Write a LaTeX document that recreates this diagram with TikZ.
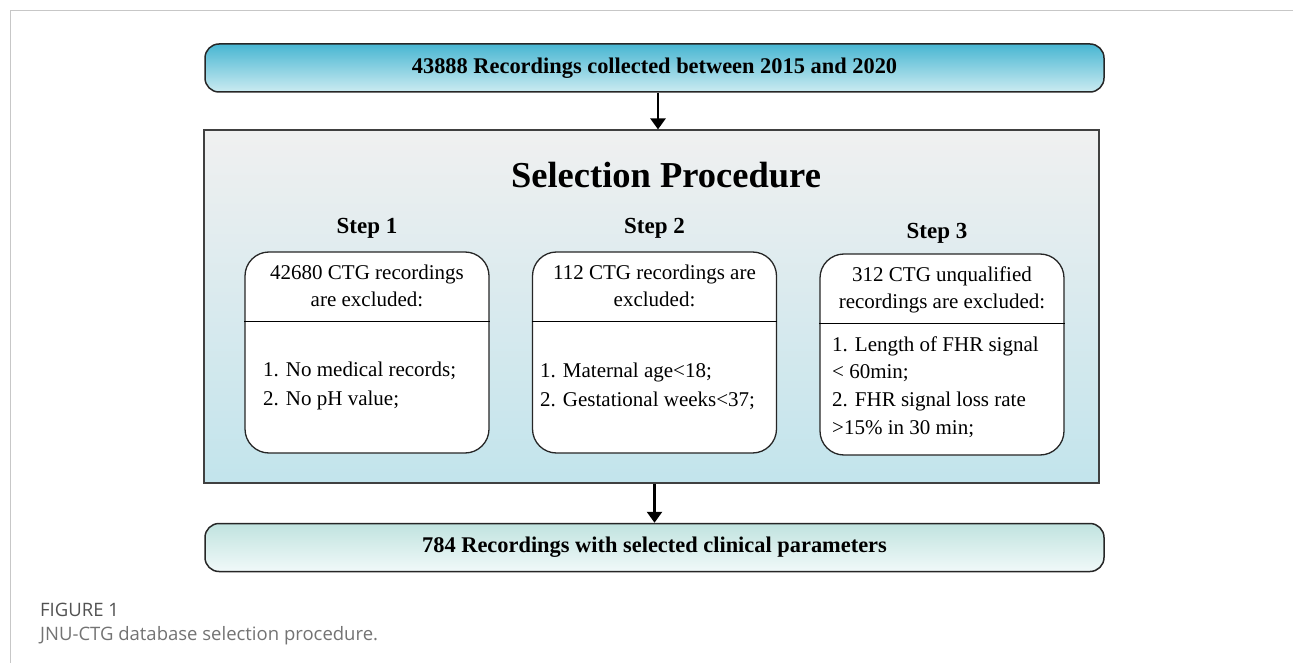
\documentclass[tikz,border=0pt]{standalone}
\usepackage{fontspec}
\setmainfont{Liberation Serif}
\newfontfamily\capfont{Open Sans}
\usetikzlibrary{arrows.meta, positioning}

\definecolor{bannertop}{HTML}{48B6D2}
\definecolor{bannerbot}{HTML}{CBEBF1}
\definecolor{resulttop}{HTML}{C0E3DF}
\definecolor{resultbot}{HTML}{F1F9F9}
\definecolor{paneltop}{HTML}{F0F0F0}
\definecolor{panelmid}{HTML}{C9E8EF}
\definecolor{panelbot}{HTML}{C2E4EC}

\begin{document}
\begin{tikzpicture}[
        x=1pt, y=-1pt,
        banner/.style={draw=black!85, line width=1.5pt, rounded corners=14pt, minimum width=899pt, minimum height=48pt, font=\fontsize{22.4}{26}\selectfont\bfseries},
        panel/.style={draw=black!75, line width=1.2pt, minimum width=895pt, minimum height=353pt, top color=paneltop, middle color=panelmid, bottom color=panelbot},
        stepbox/.style={draw=black!85, line width=1.3pt, fill=white, rounded corners=24pt, minimum width=244pt, minimum height=201pt},
        steptitle/.style={font=\fontsize{23}{26}\selectfont\bfseries},
        headtext/.style={font=\fontsize{21}{27}\selectfont, align=center},
        itemtext/.style={font=\fontsize{21}{29}\selectfont, align=left, anchor=west, inner sep=0pt},
        line/.style={draw, line width=2.6pt, -{Triangle[width=15pt,length=11pt]}}
    ]
        \useasboundingbox (0,0) rectangle (1293,663);
        % page frame
        \draw [black!22, line width=1pt] (10,663) -- (10,11) -- (1293,11);

        % Nodes from top to bottom
        \node [banner, top color=bannertop, bottom color=bannerbot] (collected) at (654.5,68) {43888 Recordings collected between 2015 and 2020};
        \node [panel] (panel) at (651.5,306.5) {};
        \node [font=\fontsize{36.5}{40}\selectfont\bfseries] (title) at (666,175) {Selection Procedure};
        \node [banner, top color=resulttop, bottom color=resultbot] (result) at (654.5,547.5) {784 Recordings with selected clinical parameters};

        % Step boxes
        \node [stepbox] (box1) at (367,352.5) {};
        \node [stepbox, right of=box1, node distance=287.5pt] (box2) {};
        \node [stepbox, right of=box2, node distance=287.5pt, yshift=-2pt] (box3) {};
        \node [steptitle, above=9pt of box1] (step1) {Step 1};
        \node [steptitle, above=9pt of box2] (step2) {Step 2};
        \node [steptitle, above=6pt of box3, xshift=-5pt] (step3) {Step 3};
        \foreach \b in {box1, box2, box3}
            \draw [line width=1.3pt] ([yshift=-70pt]\b.north west) -- ([yshift=-70pt]\b.north east);

        % Box texts
        \node [headtext, below=10pt of box1.north] (head1) {42680 CTG recordings\\are excluded:};
        \node [headtext, below=10pt of box2.north] (head2) {112 CTG recordings are\\excluded:};
        \node [headtext, below=10pt of box3.north] (head3) {312 CTG unqualified\\recordings are excluded:};
        \node [itemtext] (items1) at (263,386) {1. No medical records;\\2. No pH value;};
        \node [itemtext] (items2) at (540,386) {1. Maternal age<18;\\2. Gestational weeks<37;};
        \node [itemtext, font=\fontsize{21}{27.7}\selectfont] (items3) at (832,387) {1. Length of FHR signal\\< 60min;\\2. FHR signal loss rate\\>15\% in 30 min;};

        % Edges
        \path [line] ([xshift=3.5pt]collected.south) -- ([xshift=3.5pt]collected.south |- panel.north);
        \path [line] (panel.south -| step2.south) -- (result.north -| step2.south);

        % Caption
        \node [anchor=west, inner sep=0pt, font=\capfont\fontsize{18.5}{21}\selectfont, text=black!68] (figno) at (40,610) {FIGURE 1};
        \node [anchor=west, inner sep=0pt, font=\capfont\fontsize{18.5}{21}\selectfont, text=black!55] (caption) at (40,636) {JNU-CTG database selection procedure.};
\end{tikzpicture}
\end{document}
